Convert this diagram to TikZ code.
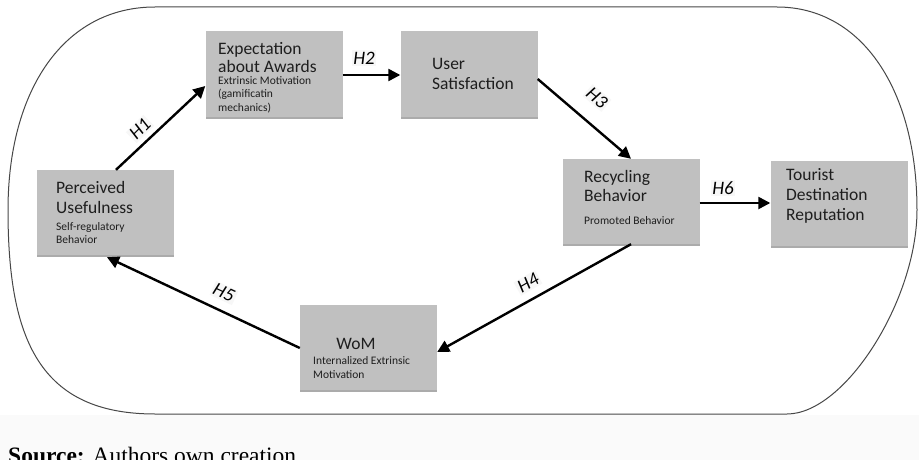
\documentclass[tikz,border=0pt]{standalone}
\usepackage{fontspec}
\setmainfont{Carlito}
\newfontfamily\serifsrc{Liberation Serif}
\usetikzlibrary{arrows.meta,calc,shadows}
\definecolor{boxgray}{RGB}{192,192,192}
\definecolor{txt}{RGB}{30,30,30}
\begin{document}
\begin{tikzpicture}[x=1pt,y=-1pt,
  box/.style={fill=boxgray, draw=none, minimum width=137pt, minimum height=85pt, inner sep=0pt,
    drop shadow={shadow xshift=0pt, shadow yshift=-2pt, fill=black!55, opacity=0.6}},
  title/.style={anchor=base west, align=left, inner sep=0pt, text=txt,
    font=\fontsize{17.5}{19.5}\selectfont},
  sub/.style={anchor=base west, align=left, inner sep=0pt, text=txt,
    font=\fontsize{11.5}{13.5}\selectfont},
  hl/.style={fill=gray!6, inner sep=1.5pt, text=black, font=\fontsize{19}{20}\selectfont\itshape},
  arr/.style={line width=2.4pt, black, -{Triangle[length=12pt,width=12pt]}},
  outline/.style={draw=black!72, line width=1pt}]
\useasboundingbox (0,0) rectangle (919,460);
\fill[white] (0,0) rectangle (919,460);
\fill[gray!4] (0,415) rectangle (919,460);
% outer rounded shape
\draw[outline] (155,7) -- (777,7)
  .. controls (862,7) and (917,90) .. (917,210)
  .. controls (917,300) and (845,414) .. (787,414)
  -- (155,414)
  .. controls (40,414) and (8,340) .. (8,210)
  .. controls (8,90) and (64,7) .. (155,7) -- cycle;
% boxes
\node[box] (ea) at (274,74) {};
\node[box] (us) at (469,74) {};
\node[box] (pu) at (105,212.5) {};
\node[box] (wom) at (368.5,347) {};
\node[box] (rb) at (631,201.5) {};
\node[box] (tdr) at (839,203) {};
% texts (anchored at the baseline of their last line)
\node[title, font=\fontsize{17.5}{18}\selectfont] (ea-t) at (218,73) {Expectation\\about Awards};
\node[sub] (ea-s) at (218,111) {Extrinsic Motivation\\(gamificatin\\mechanics)};
\node[title, font=\fontsize{17.5}{20}\selectfont] (us-t) at (432,89) {User\\Satisfaction};
\node[title, font=\fontsize{17.5}{20}\selectfont] (pu-t) at (56,213) {Perceived\\Usefulness};
\node[sub, font=\fontsize{11.5}{12.5}\selectfont] (pu-s) at (56,243) {Self-regulatory\\Behavior};
\node[title, anchor=base] (wom-t) at (356,349) {WoM};
\node[sub, font=\fontsize{11.5}{14}\selectfont] (wom-s) at (313,378) {Internalized Extrinsic\\Motivation};
\node[title, font=\fontsize{17.5}{19}\selectfont] (rb-t) at (584,201) {Recycling\\Behavior};
\node[sub] (rb-s) at (584,224) {Promoted Behavior};
\node[title, font=\fontsize{17.5}{20}\selectfont] (tdr-t) at (786,220) {Tourist\\Destination\\Reputation};
% arrows
\draw[arr] ($(pu.north)+(11,0)$) -- ($(ea.west)+(0,12)$);
\draw[arr] ($(ea.east)+(0,1)$) -- ($(us.west)+(0,1)$);
\draw[arr] ($(us.east)+(0,5)$) -- (rb.north);
\draw[arr] (rb.east |- tdr.west) -- (tdr.west);
\draw[arr] (rb.south) -- ($(wom.east)+(0,5)$);
\draw[arr] ($(wom.west)+(0,1)$) -- ($(pu.south)+(2,2)$);
% labels
\node[hl, rotate=45] (h1) at (140,129) {H1};
\node[hl] (h2) at (364,58) {H2};
\node[hl, rotate=-40] (h3) at (597,98) {H3};
\node[hl] (h6) at (723,188) {H6};
\node[hl, rotate=30] (h4) at (528,283) {H4};
\node[hl, rotate=-25] (h5) at (224,293) {H5};
% source
\node[anchor=base west, inner sep=0pt, text=black, font=\serifsrc\fontsize{23.5}{25}\selectfont] (src) at (8,463) {\textbf{Source:} Authors own creation};
\end{tikzpicture}
\end{document}
